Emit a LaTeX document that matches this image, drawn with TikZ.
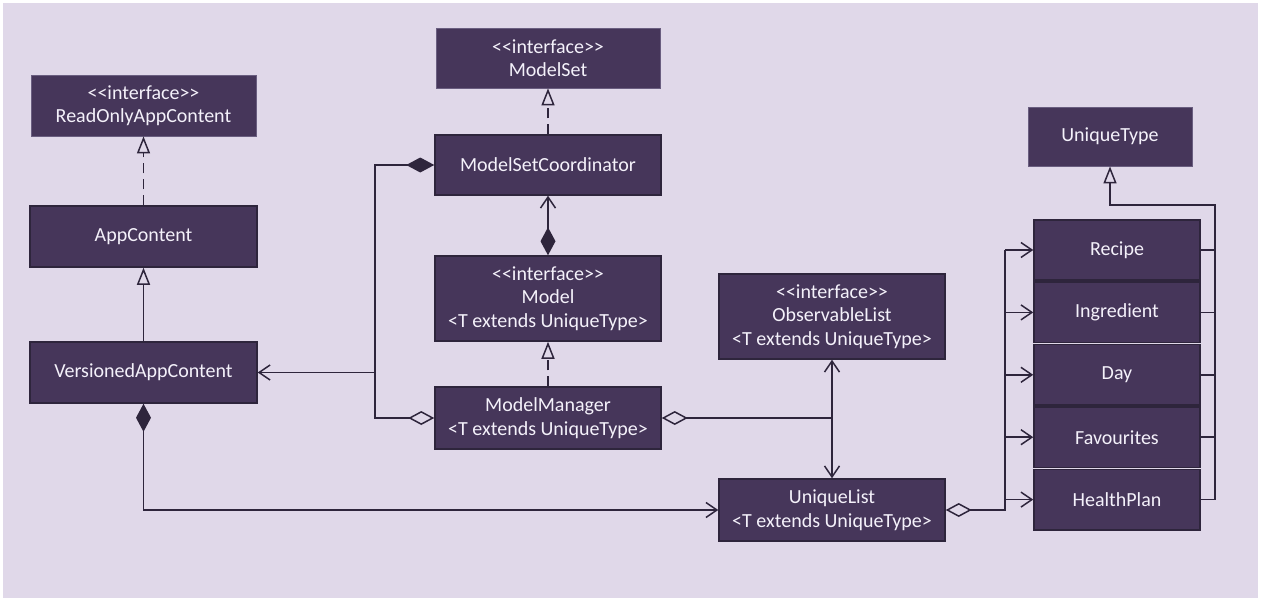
\documentclass[tikz,border=0pt]{standalone}
\usepackage{fontspec}
\setmainfont{Carlito}
\usetikzlibrary{arrows.meta}
\definecolor{bgcol}{HTML}{E0D8E9}
\definecolor{boxcol}{HTML}{46365A}
\definecolor{edgecol}{HTML}{2E253C}
\definecolor{rimcol}{HTML}{6A5E80}
\definecolor{txtcol}{HTML}{F4F1FA}
\newcommand{\stereo}[1]{<\kern0pt<#1>\kern0pt>}
\tikzset{
  FDia/.tip={Diamond[length=28pt,width=15pt]},
  ODia/.tip={Diamond[open,length=26pt,width=14pt]},
  Inh/.tip={Triangle[open,length=17pt,width=13pt]},
  Nav/.tip={Straight Barb[length=11pt,width=15pt]}
}

\begin{document}
\begin{tikzpicture}[
x=1pt, y=-1pt,
every node/.style={font=\fontsize{20}{23.5}\selectfont, text=txtcol},
classbox/.style={
  draw=edgecol, fill=boxcol, line width=1.5pt,
  inner sep=0pt, align=center,
  minimum width=226pt, minimum height=61pt
  },
ifacebox/.style={classbox, draw=rimcol, line width=0.8pt},
entitybox/.style={classbox, minimum width=166pt, minimum height=60.4pt},
link/.style={draw=edgecol, line width=1.5pt},
realize/.style={link, dash pattern=on 10pt off 6pt, -Inh},
inherit/.style={link, -Inh}
]
\useasboundingbox (0,0) rectangle (1262,602);
\fill[bgcol] (3,3) rectangle (1258,598);

% left column
\node[ifacebox, minimum width=225pt] (readonly) at (143.5,105.5) {\stereo{interface}\\ReadOnlyAppContent};
\node[classbox, minimum width=227pt] (appcontent) at (143.5,236.5) {AppContent};
\node[classbox, minimum width=227pt] (versioned) at (143.5,372.5) {VersionedAppContent};

% model column
\node[ifacebox, minimum width=224pt, minimum height=60pt] (modelset) at (548,58) {\stereo{interface}\\ModelSet};
\node[classbox, minimum height=60pt] (coordinator) at (548,165) {ModelSetCoordinator};
\node[classbox, minimum height=85pt] (model) at (548,298.5) {\stereo{interface}\\Model\\<T extends UniqueType>};
\node[classbox, minimum height=62pt] (manager) at (548,418) {ModelManager\\<T extends UniqueType>};

% list column
\node[classbox, minimum height=85pt] (observable) at (832,316.5) {\stereo{interface}\\ObservableList\\<T extends UniqueType>};
\node[classbox, minimum height=62pt] (uniquelist) at (832,510) {UniqueList\\<T extends UniqueType>};

% types
\node[ifacebox, minimum width=164pt, minimum height=59pt] (uniquetype) at (1110,136.5) {UniqueType};
\foreach \Name/\Label/\Y in {recipe/Recipe/250, ingredient/Ingredient/312.4, day/Day/374.8, favourites/Favourites/437.2, healthplan/HealthPlan/499.6}
  \node[entitybox] (\Name) at (1117,\Y) {\Label};

% realization and inheritance
\draw[realize] (appcontent) -- (readonly);
\draw[inherit] (versioned) -- (appcontent);
\draw[realize] (coordinator) -- (modelset);
\draw[realize] (manager) -- (model);
\draw[link, FDia-Nav] (model) -- (coordinator);

% associations
\coordinate (leftbus) at (375,372.5);
\draw[link, FDia-Nav] (coordinator.west) -| (leftbus) -- (versioned.east);
\draw[link, ODia-] (manager.west) -| (leftbus);
\draw[link, ODia-] (manager.east) -- (manager.east -| observable.south);
\draw[link, Nav-Nav] (observable) -- (uniquelist);
\draw[link, FDia-Nav] (versioned.south) |- (uniquelist.west);

\coordinate (listbus) at (1005,250);
\draw[link, ODia-] (uniquelist.east) -| (listbus);
\foreach \Name in {recipe,ingredient,day,favourites,healthplan}
  \draw[link, -Nav] (listbus |- \Name.west) -- (\Name.west);

\coordinate (typebus) at (1215,205);
\draw[link, -Inh] (healthplan.east) -| (typebus) -| (uniquetype.south);
\foreach \Name in {recipe,ingredient,day,favourites}
  \draw[link] (\Name.east) -- (\Name.east -| typebus);
\end{tikzpicture}
\end{document}
